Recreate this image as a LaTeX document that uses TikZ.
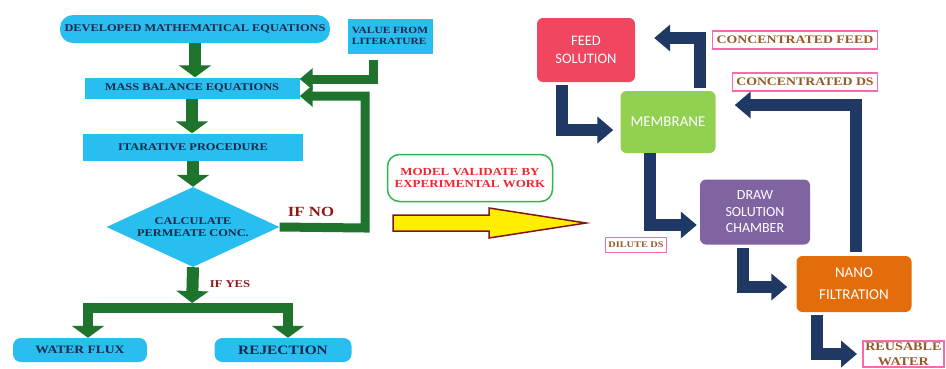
\documentclass[tikz,border=0pt]{standalone}
\usepackage{fontspec}
\setmainfont{Liberation Serif}
\newfontfamily\widefont[FakeStretch=1.2]{Liberation Serif}
\newfontfamily\boxfont{Carlito}
\usetikzlibrary{arrows.meta,shapes.geometric}

\definecolor{skyblue}{RGB}{41,190,240}
\definecolor{flowgreen}{RGB}{30,115,45}
\definecolor{inkblue}{RGB}{25,40,75}
\definecolor{navy}{RGB}{31,56,100}
\definecolor{feedred}{RGB}{240,70,95}
\definecolor{membgreen}{RGB}{146,208,80}
\definecolor{drawpurple}{RGB}{128,100,162}
\definecolor{nanoorange}{RGB}{228,108,10}
\definecolor{tagpink}{RGB}{255,105,170}
\definecolor{tagbrown}{RGB}{150,90,40}
\definecolor{darkred}{RGB}{140,25,25}
\definecolor{validgreen}{RGB}{50,180,80}
\definecolor{validred}{RGB}{235,40,45}
\definecolor{arrowyellow}{RGB}{255,238,0}
\definecolor{arrowrim}{RGB}{130,20,20}

\begin{document}
\begin{tikzpicture}[x=1pt, y=-1pt, line join=miter,
		flowbox/.style={fill=skyblue, text=inkblue, inner sep=0pt, font=\widefont\bfseries\fontsize{10.3}{11.5}\selectfont},
		endbox/.style={flowbox, rounded corners=8pt},
		unitbox/.style={rounded corners=6pt, text=white, align=center, inner sep=0pt, font=\boxfont\fontsize{14.5}{18}\selectfont},
		tag/.style={draw=tagpink, line width=1.5pt, fill=white, text=tagbrown, inner xsep=4pt, inner ysep=0pt, minimum height=18pt, font=\widefont\bfseries\fontsize{11.5}{13}\selectfont},
		bigflow/.style={draw=flowgreen, line width=12pt, -{Triangle[width=32pt,length=12pt]}},
		sideflow/.style={draw=flowgreen, line width=9pt, -{Triangle[width=21pt,length=13pt]}},
		forkflow/.style={draw=flowgreen, line width=10pt, -{Triangle[width=32pt,length=12pt]}},
		cycleflow/.style={draw=navy, line width=12pt, -{Triangle[width=26pt,length=16pt]}}]
	\useasboundingbox (0,0) rectangle (946,368);

	% model
	\node[flowbox, rounded corners=13pt, minimum width=270pt, minimum height=28pt] (dev) at (195,29) {DEVELOPED MATHEMATICAL EQUATIONS};
	\node[flowbox, minimum width=85pt, minimum height=35pt, align=left, font=\widefont\bfseries\fontsize{9.5}{10.5}\selectfont] (lit) at (390,36) {VALUE FROM\\LITERATURE};
	\node[flowbox, minimum width=215pt, minimum height=21pt] (mass) at (192,88) {MASS BALANCE EQUATIONS};
	\node[flowbox, minimum width=220pt, minimum height=27pt] (iter) at (193,147) {ITARATIVE PROCEDURE};
	\node[flowbox, diamond, aspect=2.16, minimum width=173pt, minimum height=80pt, align=center] (calc) at (193,227) {CALCULATE\\PERMEATE CONC.};
	\node[endbox, minimum width=134pt, minimum height=24pt, font=\widefont\bfseries\fontsize{11.3}{12}\selectfont] (flux) at (80,350) {WATER FLUX};
	\node[endbox, minimum width=137pt, minimum height=24pt, font=\widefont\bfseries\fontsize{12.8}{13}\selectfont] (rej) at (283,350) {REJECTION};
	\coordinate (back) at (365,228);
	\coordinate (fork) at (192,308);

	\draw[bigflow] (dev.south) -- (dev.south |- mass.north);
	\draw[bigflow] (mass.south) -- (mass.south |- iter.north);
	\draw[bigflow] (iter.south) -- (iter.south |- calc.north);
	\draw[sideflow, shorten <=6pt] ([xshift=-17pt]lit.south) |- ([yshift=9pt]mass.east);
	\draw[sideflow] (calc.east) -- (back) |- ([yshift=-8pt]mass.east);
	\draw[bigflow, shorten >=5pt] (calc.south) -- (fork);
	\draw[forkflow] (fork) -| ([xshift=8pt]flux.north);
	\draw[forkflow] (fork) -| ([xshift=5pt]rej.north);
	\node[text=darkred, font=\widefont\bfseries\fontsize{14}{14}\selectfont] (ifno) at (311,212) {IF NO};
	\node[text=darkred, font=\widefont\bfseries\fontsize{10.5}{11}\selectfont] (ifyes) at (230,284) {IF YES};

	% validation
	\node[draw=validgreen, line width=1.5pt, rounded corners=12pt, minimum width=165pt, minimum height=47pt, inner sep=0pt, text=validred, align=center, font=\widefont\bfseries\fontsize{10.8}{12}\selectfont] (valid) at (470,178) {MODEL VALIDATE BY\\EXPERIMENTAL WORK};
	\draw[draw=arrowrim, fill=arrowyellow, line width=1.5pt] (393,215) -- (489,215) -- (489,208) -- (586,223) -- (489,238) -- (489,231) -- (393,231) -- cycle;

	% process
	\node[unitbox, fill=feedred, minimum width=98pt, minimum height=64pt] (feed) at (586,50) {FEED\\SOLUTION};
	\node[unitbox, fill=membgreen, minimum width=95pt, minimum height=62pt, font=\boxfont\fontsize{15}{18}\selectfont] (memb) at (668,122) {MEMBRANE};
	\node[unitbox, fill=drawpurple, minimum width=110pt, minimum height=65pt, font=\boxfont\fontsize{14}{16.5}\selectfont] (drawch) at (755,212) {DRAW\\SOLUTION\\CHAMBER};
	\node[unitbox, fill=nanoorange, minimum width=115pt, minimum height=56pt, font=\boxfont\fontsize{15}{22}\selectfont] (nano) at (854,284) {NANO\\FILTRATION};
	\node[tag] (cfeed) at (795,40) {CONCENTRATED FEED};
	\node[tag] (cds) at (805,82) {CONCENTRATED DS};
	\node[tag, inner xsep=3pt, minimum height=15pt, font=\widefont\bfseries\fontsize{8.6}{9}\selectfont] (dds) at (636,245) {DILUTE DS};
	\node[tag, align=center, anchor=north west, inner xsep=2.5pt, inner ysep=2pt, font=\widefont\bfseries\fontsize{11.8}{14.5}\selectfont] (reuse) at (862,340) {REUSABLE\\WATER};

	\draw[cycleflow, shorten <=3pt, shorten >=7pt] ([xshift=-24pt]feed.south) |- ([yshift=-8pt]memb.west);
	\draw[cycleflow, shorten <=3pt, shorten >=19pt] ([xshift=32pt]memb.north) |- ([yshift=12pt]feed.east);
	\draw[cycleflow, shorten >=3pt] ([xshift=-18pt]memb.south) |- ([yshift=-13pt]drawch.west);
	\draw[cycleflow, shorten <=4pt, shorten >=19pt] ([xshift=2pt]nano.north) |- ([yshift=17pt]memb.east);
	\draw[cycleflow, shorten <=3pt, shorten >=9pt] ([xshift=-12pt]drawch.south) |- ([yshift=-3pt]nano.west);
	\draw[cycleflow, shorten <=3pt, shorten >=5pt] ([xshift=-37pt]nano.south) |- (reuse.west);
\end{tikzpicture}
\end{document}
